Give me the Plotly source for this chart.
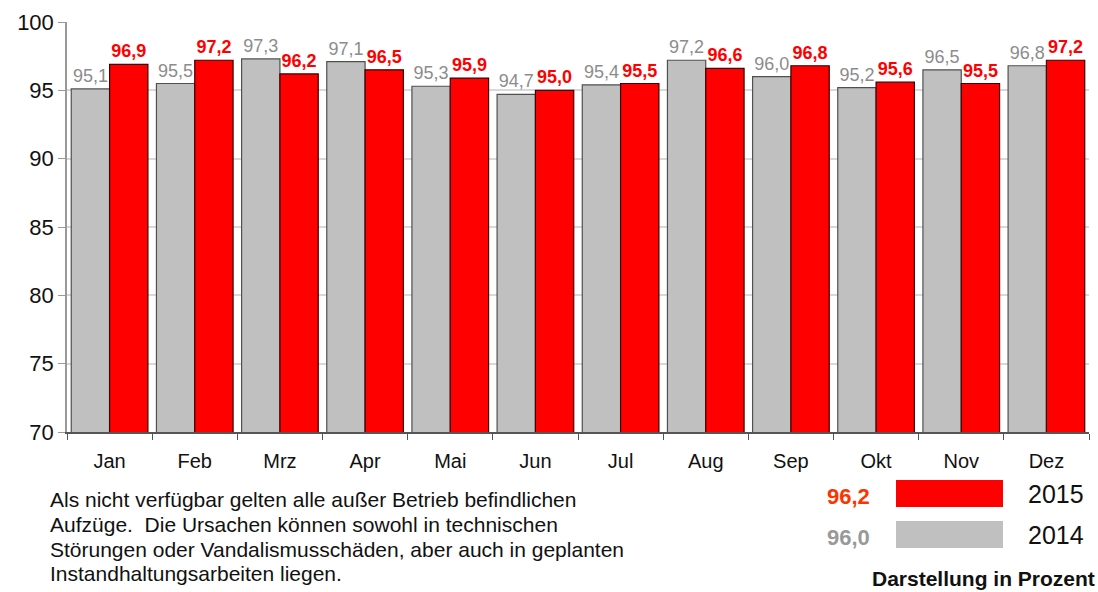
import plotly.graph_objects as go

months = ["Jan", "Feb", "Mrz", "Apr", "Mai", "Jun", "Jul", "Aug", "Sep", "Okt", "Nov", "Dez"]
values_2014 = [95.1, 95.5, 97.3, 97.1, 95.3, 94.7, 95.4, 97.2, 96.0, 95.2, 96.5, 96.8]
values_2015 = [96.9, 97.2, 96.2, 96.5, 95.9, 95.0, 95.5, 96.6, 96.8, 95.6, 95.5, 97.2]
avg_2015 = 96.2
avg_2014 = 96.0
y_ticks = [70, 75, 80, 85, 90, 95, 100]
footnote_lines = [
    "Als nicht verfügbar gelten alle außer Betrieb befindlichen",
    "Aufzüge.  Die Ursachen können sowohl in technischen",
    "Störungen oder Vandalismusschäden, aber auch in geplanten",
    "Instandhaltungsarbeiten liegen.",
]

FONT = "Liberation Sans, Arial, sans-serif"
L, R, T, B = 67, 1089, 22, 432
W, H = R - L, B - T

def px(x):
    return (x - L) / W

def py(y):
    return (B - y) / H

fig = go.Figure()
fig.add_trace(go.Bar(
    x=months, y=values_2014, name="2014",
    marker=dict(color="#c0c0c0", line=dict(color="#505050", width=1.2)),
    texttemplate="%{y:.1f}", textposition="outside",
    textfont=dict(family=FONT, size=18, color="#8c8c8c"),
    cliponaxis=False,
))
fig.add_trace(go.Bar(
    x=months, y=values_2015, name="2015",
    marker=dict(color="#ff0000", line=dict(color="#3a0000", width=1.2)),
    texttemplate="<b>%{y:.1f}</b>", textposition="outside",
    textfont=dict(family=FONT, size=18, color="#ff0000"),
    cliponaxis=False,
))

shapes = [
    dict(type="rect", xref="paper", yref="paper", x0=px(896), x1=px(1003), y0=py(507), y1=py(480),
         fillcolor="#ff0000", line=dict(width=0)),
    dict(type="rect", xref="paper", yref="paper", x0=px(896), x1=px(1003), y0=py(548), y1=py(521),
         fillcolor="#c0c0c0", line=dict(width=0)),
]

def ann(text, x, y, size, color, xanchor="center"):
    return dict(text=text, x=px(x), y=py(y), xref="paper", yref="paper", showarrow=False,
                xanchor=xanchor, yanchor="middle", font=dict(family=FONT, size=size, color=color))

annotations = [
    ann("2015", 1056, 494, 25, "#111111"),
    ann("2014", 1056, 535, 25, "#111111"),
    ann("<b>%s</b>" % f"{avg_2015:.1f}".replace(".", ","), 872, 497, 22, "#ff3300", "right"),
    ann("<b>%s</b>" % f"{avg_2014:.1f}".replace(".", ","), 872, 537, 22, "#999999", "right"),
    ann("<b>Darstellung in Prozent</b>", 1097, 578, 21, "#111111", "right"),
]
for i, line in enumerate(footnote_lines):
    annotations.append(ann(line, 48, 500 + i * 24.5, 21, "#111111", "left"))

fig.update_layout(
    width=1098, height=592,
    margin=dict(l=L, r=1098 - R, t=T, b=592 - B, autoexpand=False),
    paper_bgcolor="white", plot_bgcolor="white",
    barmode="group", bargap=0.1, bargroupgap=0.0,
    separators=",.",
    showlegend=False,
    font=dict(family=FONT, color="#111111"),
    shapes=shapes,
    annotations=annotations,
)
fig.update_xaxes(
    tickson="boundaries", ticks="outside", ticklen=6, tickcolor="#555555",
    showline=True, linecolor="#555555", linewidth=1.5,
    tickfont=dict(family=FONT, size=20, color="#111111"),
    ticklabelstandoff=10,
    showgrid=False, automargin=False,
)
fig.update_yaxes(
    range=[70, 100], tickvals=y_ticks, ticks="outside", ticklen=7, tickcolor="#999999",
    showline=True, linecolor="#999999", linewidth=1.5,
    showgrid=True, gridcolor="#d9d9d9", gridwidth=1.5,
    tickfont=dict(family=FONT, size=22, color="#111111"),
    zeroline=False, automargin=False,
)

fig.write_html("out.html", config={"displayModeBar": False},
               post_script="document.body.style.margin='0';document.body.style.overflow='hidden';")
